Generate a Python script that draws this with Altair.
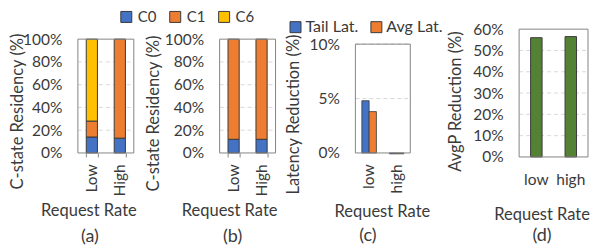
import altair as alt
import pandas as pd

# ---------------- data ----------------
rates_ab = ["Low", "High"]
states = ["C0", "C1", "C6"]
state_colors = ["#4472C4", "#ED7D31", "#FFC000"]
res_a_low = [0.14, 0.14, 0.72]
res_a_high = [0.13, 0.87, 0.0]
res_b_low = [0.12, 0.88, 0.0]
res_b_high = [0.12, 0.88, 0.0]
ticks_ab = [0, 0.2, 0.4, 0.6, 0.8, 1.0]
grid_ab = [0.2, 0.4, 0.6, 0.8]

rates_cd = ["low", "high"]
lat_series = ["Tail Lat.", "Avg Lat."]
lat_colors = ["#4472C4", "#ED7D31"]
lat_low = [0.048, 0.038]
lat_high = [-0.0008, -0.0008]
ticks_c = [0, 0.05, 0.10]
grid_c = [0.05, 0.10]

avgp = [0.56, 0.565]
ticks_d = [0, 0.1, 0.2, 0.3, 0.4, 0.5, 0.6]
grid_d = [0.1, 0.2, 0.3, 0.4, 0.5]

captions = ["(a)", "(b)", "(c)", "(d)"]
y_titles = ["C-state Residency (%)", "C-state Residency (%)",
            "Latency Reduction (%)", "AvgP Reduction (%)"]
x_title = "Request Rate"

# ---------------- style ----------------
FONT = "Lato"
TXT = "#3A3A3A"
FRAME = "#858585"
GRID = "#D9D9D9"
BAR_STROKE = "#3A3A3A"
TICK_FS = 15.5
TITLE_FS = 16.5


def res_df(low, high):
    rows = []
    for rate, vals in zip(rates_ab, [low, high]):
        for i, (s, v) in enumerate(zip(states, vals)):
            if v > 0:
                rows.append({"rate": rate, "state": s, "value": v, "order": i})
    return pd.DataFrame(rows)


def y_axis(title, values, tx, ty):
    return alt.Axis(title=title, values=values, format=".0%", domain=False,
                    ticks=False, tickSize=0, grid=False, labelPadding=16,
                    labelFontSize=TICK_FS, labelColor=TXT, labelFont=FONT,
                    titleX=tx, titleY=ty, titleAngle=270, titleAlign="center",
                    titleBaseline="middle", titleFontSize=TITLE_FS, titleColor=TXT,
                    titleFont=FONT, titleFontWeight="normal")


def x_axis(angle, ticks, pad, tx, ty):
    kw = dict(title=x_title, domain=False, labelFontSize=TICK_FS, labelColor=TXT,
              labelFont=FONT, labelPadding=pad, titleX=tx, titleY=ty,
              titleAlign="center", titleBaseline="middle", titleFontSize=TITLE_FS,
              titleColor=TXT, titleFont=FONT, titleFontWeight="normal",
              labelAngle=angle)
    if angle == 270:
        kw.update(labelAlign="right", labelBaseline="middle")
    if ticks:
        kw.update(ticks=True, tickBand="extent", tickSize=4, tickColor=FRAME)
    else:
        kw.update(ticks=False, tickSize=0)
    return alt.Axis(**kw)


def common_layers(W, ysc, yax, grid_vals, top, caption, cap_x, cap_y):
    grid = alt.Chart(pd.DataFrame({"g": grid_vals})).mark_rule(
        color=GRID, strokeDash=[4, 3], strokeWidth=1
    ).encode(y=alt.Y("g:Q", scale=ysc, axis=yax), x=alt.value(0), x2=alt.value(W))
    frame = alt.Chart(pd.DataFrame({"top": [top], "bot": [0.0]})).mark_rect(
        fillOpacity=0, stroke=FRAME, strokeWidth=1
    ).encode(y=alt.Y("top:Q", scale=ysc, axis=yax), y2="bot:Q",
             x=alt.value(0), x2=alt.value(W))
    cap = alt.Chart(pd.DataFrame({"cap": [caption]})).mark_text(
        fontSize=18, font=FONT, color=TXT
    ).encode(text="cap:N", x=alt.value(cap_x), y=alt.value(cap_y))
    return grid, frame, cap


def residency_panel(df, idx, legend, ytx, yty, xtx, cap_x):
    W = 56
    ysc = alt.Scale(domain=[0, 1], range=[124, 10])
    yax = y_axis(y_titles[idx], ticks_ab, ytx, yty)
    grid, frame, cap = common_layers(W, ysc, yax, grid_ab, 1.0, captions[idx], cap_x, 208)
    bars = alt.Chart(df).mark_bar(stroke=BAR_STROKE, strokeWidth=1).encode(
        x=alt.X("rate:N", sort=rates_ab,
                scale=alt.Scale(domain=rates_ab, range=[0, W],
                                paddingInner=0.6, paddingOuter=0.3),
                axis=x_axis(270, True, 7, xtx, 58)),
        y=alt.Y("value:Q", stack="zero", scale=ysc, axis=yax),
        color=alt.Color("state:N",
                        scale=alt.Scale(domain=states, range=state_colors),
                        legend=legend),
        order=alt.Order("order:Q"),
    )
    return alt.layer(grid, bars, frame, cap)


legend_ab = alt.Legend(orient="none", legendX=41, legendY=-20,
                       direction="horizontal", columns=3, title=None,
                       symbolType="square", symbolSize=121,
                       symbolStrokeColor=BAR_STROKE, symbolStrokeWidth=1,
                       labelFontSize=15, labelFont=FONT, labelColor=TXT,
                       labelOffset=4, columnPadding=11, gridAlign="all",
                       padding=0)

panel_a = residency_panel(res_df(res_a_low, res_a_high), 0, legend_ab,
                          -60.75, 82, 10.5, 12).properties(width=62, height=124)
panel_b = residency_panel(res_df(res_b_low, res_b_high), 1, None,
                          -66.5, 84, 9.5, 13).properties(width=56, height=124)

# ---- panel c ----
df_c = pd.DataFrame([
    {"rate": r, "series": s, "value": v}
    for r, vals in zip(rates_cd, [lat_low, lat_high])
    for s, v in zip(lat_series, vals)
])
Wc = 55
ysc_c = alt.Scale(domain=[0, 0.1], range=[124, 15])
yax_c = y_axis(y_titles[2], ticks_c, -62, 85)
grid_c_l, frame_c, cap_c = common_layers(Wc, ysc_c, yax_c, grid_c, 0.1, captions[2], 12.5, 207)
bars_c = alt.Chart(df_c).mark_bar(stroke=BAR_STROKE, strokeWidth=0.8).encode(
    x=alt.X("rate:N", sort=rates_cd,
            scale=alt.Scale(domain=rates_cd, range=[0, Wc],
                            paddingInner=0.47, paddingOuter=0.235),
            axis=x_axis(270, False, 11, 26.5, 59)),
    xOffset=alt.XOffset("series:N", sort=lat_series,
                        scale=alt.Scale(domain=lat_series, paddingInner=0,
                                        paddingOuter=0)),
    y=alt.Y("value:Q", scale=ysc_c, axis=yax_c),
    color=alt.Color("series:N", scale=alt.Scale(domain=lat_series, range=lat_colors),
                    legend=alt.Legend(orient="none", legendX=-68, legendY=-10,
                                      direction="horizontal", columns=2, title=None,
                                      symbolType="square", symbolSize=121,
                                      symbolStrokeColor=BAR_STROKE,
                                      symbolStrokeWidth=1, labelFontSize=16,
                                      labelFont=FONT, labelColor=TXT,
                                      labelOffset=2, columnPadding=10,
                                      padding=0)),
)
panel_c = alt.layer(grid_c_l, bars_c, frame_c, cap_c).properties(width=84, height=124)

# ---- panel d ----
df_d = pd.DataFrame({"rate": rates_cd, "value": avgp})
Wd = 69
ysc_d = alt.Scale(domain=[0, 0.6])
yax_d = y_axis(y_titles[3], ticks_d, -64, 72)
grid_d_l, frame_d, cap_d = common_layers(Wd, ysc_d, yax_d, grid_d, 0.6, captions[3], 23, 207.5)
bars_d = alt.Chart(df_d).mark_bar(color="#548235", stroke=BAR_STROKE, strokeWidth=1).encode(
    x=alt.X("rate:N", sort=rates_cd,
            scale=alt.Scale(domain=rates_cd, range=[0, Wd],
                            paddingInner=0.667, paddingOuter=0.333),
            axis=x_axis(0, False, 16, 22.5, 58)),
    y=alt.Y("value:Q", scale=ysc_d, axis=yax_d),
)
panel_d = alt.layer(grid_d_l, bars_d, frame_d, cap_d).properties(width=69, height=128)

chart = alt.hconcat(panel_a, panel_b, panel_c, panel_d, spacing=80, bounds="flush") \
    .resolve_scale(color="independent") \
    .properties(padding=0, background="white") \
    .configure_view(stroke="transparent")

chart.save("out.html", embed_options={"renderer": "svg", "actions": False})
